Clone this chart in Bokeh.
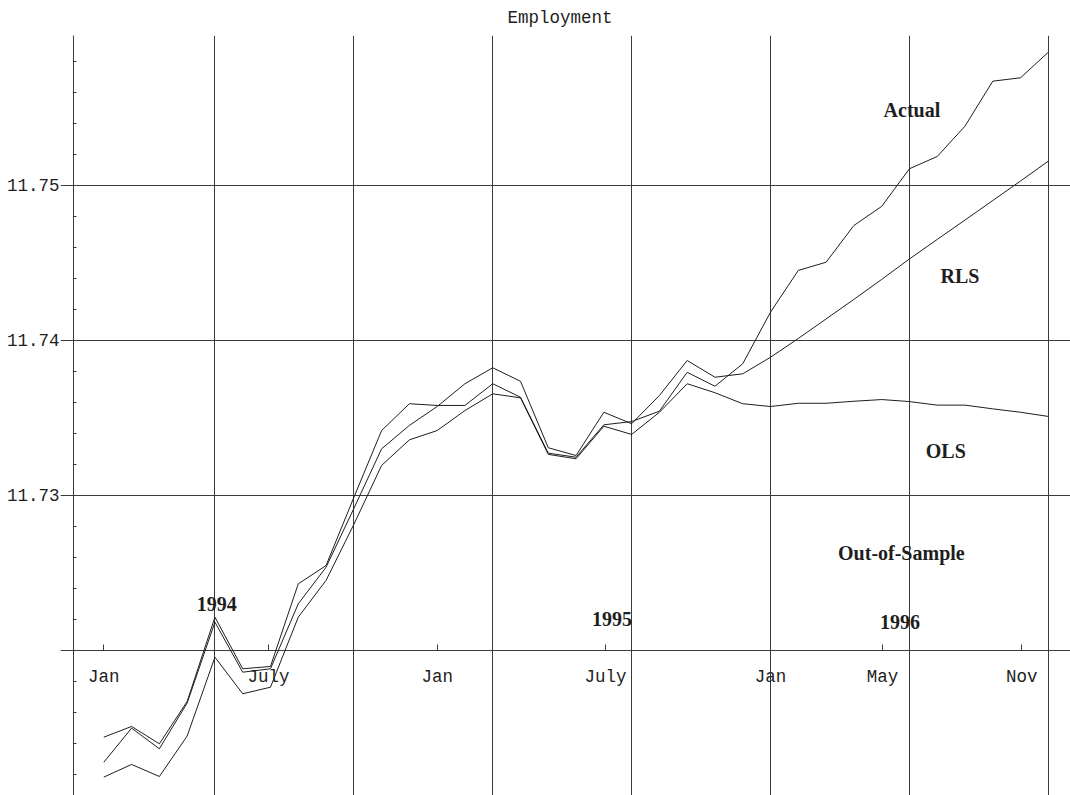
from bokeh.plotting import figure
from bokeh.models import Range1d, LinearAxis, FixedTicker, Grid, Label
from bokeh.embed import file_html
from bokeh.resources import INLINE

# monthly observations (index 0 = Jan 1994 ... 34 = Nov 1996)
months = list(range(35))

actual = [11.71441, 11.71510, 11.71398, 11.71671, 11.72215, 11.71882, 11.71897,
          11.72430, 11.72548, 11.72987, 11.73419, 11.73592, 11.73581, 11.73581,
          11.73721, 11.73634, 11.73273, 11.73247, 11.73456, 11.73477, 11.73544,
          11.73795, 11.73705, 11.73850, 11.74183, 11.74452, 11.74505, 11.74742,
          11.74865, 11.75108, 11.75187, 11.75383, 11.75673, 11.75695, 11.75860]

rls = [11.71279, 11.71499, 11.71366, 11.71661, 11.72183, 11.71860, 11.71882,
       11.72301, 11.72537, 11.72916, 11.73301, 11.73452, 11.73574, 11.73721,
       11.73824, 11.73737, 11.73308, 11.73258, 11.73537, 11.73463, 11.73645,
       11.73871, 11.73763, 11.73785, 11.73892, 11.74013, 11.74139, 11.74265,
       11.74394, 11.74526, 11.74652, 11.74777, 11.74903, 11.75029, 11.75157]

ols = [11.71183, 11.71265, 11.71187, 11.71448, 11.71957, 11.71721, 11.71763,
       11.72215, 11.72452, 11.72813, 11.73194, 11.73359, 11.73419, 11.73548,
       11.73656, 11.73630, 11.73265, 11.73237, 11.73447, 11.73394, 11.73537,
       11.73721, 11.73663, 11.73592, 11.73574, 11.73595, 11.73595, 11.73608,
       11.73619, 11.73606, 11.73583, 11.73583, 11.73559, 11.73537, 11.73510]

xtick_pos = [0, 5.93, 12, 18.06, 24, 28.03, 33.04]
xtick_labels = ["Jan", "July", "Jan", "July", "Jan", "May", "Nov"]
ytick_vals = [11.73, 11.74, 11.75]
yminor_vals = [11.712, 11.714, 11.716, 11.718, 11.722, 11.724, 11.726, 11.728,
               11.732, 11.734, 11.736, 11.738, 11.742, 11.744, 11.746, 11.748,
               11.752, 11.754, 11.756, 11.758]
vgrid_pos = [-1.1, 4, 9, 14, 19, 24, 29, 34]
hgrid_vals = [11.72, 11.73, 11.74, 11.75]
axis_level = 11.72
left_edge = -1.1

annot_text = ["Actual", "RLS", "OLS", "Out-of-Sample", "1994", "1995", "1996"]
annot_x = [29.09, 30.82, 30.31, 28.71, 4.07, 18.29, 28.66]
annot_y = [11.75490, 11.74413, 11.73284, 11.72632, 11.72297, 11.72206, 11.72187]

MONO = "Liberation Mono"
SERIF = "Liberation Serif"
INK = "#1e1e1e"
GRIDC = "#3a3a3a"

p = figure(width=1070, height=795,
           x_range=Range1d(-1.5587, 34.798), y_range=Range1d(11.710645, 11.759677),
           x_axis_location=None, y_axis_location=None,
           toolbar_location=None, output_backend="svg",
           min_border_left=60, min_border_right=0, min_border_top=35, min_border_bottom=0)
p.outline_line_color = None
p.background_fill_color = "white"
p.border_fill_color = "white"
p.center = [r for r in p.center if not isinstance(r, Grid)]

p.title.text = "Employment"
p.title.align = "left"
p.title.offset = 447
p.title.text_font = MONO
p.title.text_font_size = "17.5px"
p.title.text_font_style = "normal"
p.title.text_color = INK
p.title.standoff = 12
p.title.vertical_align = "top"

vgrid = Grid(dimension=0, ticker=FixedTicker(ticks=vgrid_pos),
             grid_line_color=GRIDC, grid_line_width=1)
hgrid = Grid(dimension=1, ticker=FixedTicker(ticks=hgrid_vals),
             grid_line_color=GRIDC, grid_line_width=1)
p.add_layout(vgrid)
p.add_layout(hgrid)

# y labels, right next to the frame edge
yax = LinearAxis(ticker=FixedTicker(ticks=ytick_vals))
yax.axis_line_color = None
yax.major_tick_line_color = None
yax.major_tick_in = 0
yax.major_tick_out = 0
yax.minor_tick_line_color = None
yax.major_label_standoff = 1
yax.major_label_text_font = MONO
yax.major_label_text_font_size = "17.5px"
yax.major_label_text_color = INK
p.add_layout(yax, "left")

# left frame line with small inward minor ticks
yax2 = LinearAxis(ticker=FixedTicker(ticks=[], minor_ticks=yminor_vals),
                  fixed_location=left_edge)
yax2.axis_line_color = GRIDC
yax2.major_tick_line_color = None
yax2.minor_tick_line_color = GRIDC
yax2.minor_tick_in = 3
yax2.minor_tick_out = 0
p.add_layout(yax2, "left")

# x axis drawn on the 11.72 line
xax = LinearAxis(ticker=FixedTicker(ticks=xtick_pos), fixed_location=axis_level)
xax.major_label_overrides = {v: t for v, t in zip(xtick_pos, xtick_labels)}
xax.axis_line_color = None
xax.major_tick_line_color = GRIDC
xax.major_tick_in = 6
xax.major_tick_out = 0
xax.minor_tick_line_color = None
xax.major_label_standoff = 17
xax.major_label_text_font = MONO
xax.major_label_text_font_size = "17.5px"
xax.major_label_text_color = INK
p.add_layout(xax, "below")

for series in (actual, rls, ols):
    p.line(months, series, line_color=INK, line_width=1)

for t, x, y in zip(annot_text, annot_x, annot_y):
    p.add_layout(Label(x=x, y=y, text=t, text_font=SERIF, text_font_size="20px",
                       text_font_style="bold", text_align="center",
                       text_baseline="alphabetic", text_color=INK))

open("out.html", "w").write(file_html(p, INLINE))
